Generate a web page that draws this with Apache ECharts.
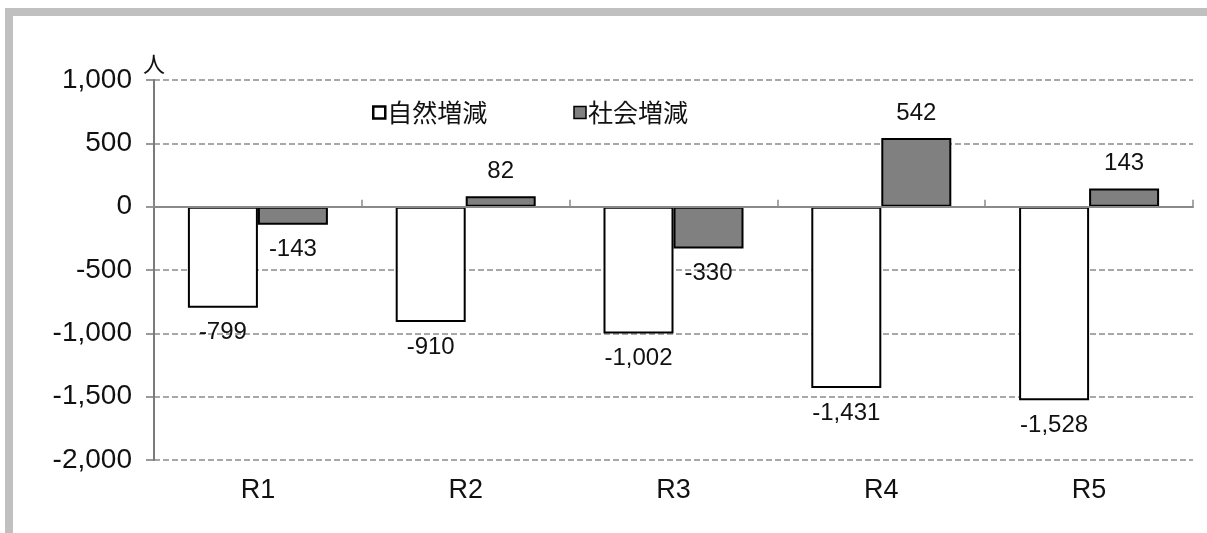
<!DOCTYPE html>
<html>
<head>
<meta charset="utf-8">
<script src="https://cdn.jsdelivr.net/npm/echarts@6/dist/echarts.min.js"></script>
<style>
  html, body { margin: 0; padding: 0; background: #ffffff; }
  #chart { width: 1207px; height: 533px; }
</style>
</head>
<body>
<div id="chart"></div>
<script>
// Fiscal years (令和)
const categories = ['R1', 'R2', 'R3', 'R4', 'R5'];
// 自然増減 (births minus deaths), persons
const naturalChange = [-799, -910, -1002, -1431, -1528];
// 社会増減 (in-migration minus out-migration), persons
const socialChange = [-143, 82, -330, 542, 143];
// Value axis range
const yMin = -2000;
const yMax = 1000;
const yStep = 500;

const numFont = '"Liberation Sans", Arial, sans-serif';
const jpFont = '"Noto Sans CJK JP", "Liberation Sans", sans-serif';

function withCommas(v) {
  const s = String(Math.abs(v)).replace(/\B(?=(\d{3})+(?!\d))/g, ',');
  return (v < 0 ? '-' : '') + s;
}

const chart = echarts.init(document.getElementById('chart'), null, { renderer: 'canvas' });

const barLabel = {
  show: true,
  position: 'outside',
  distance: 13,
  fontFamily: numFont,
  fontSize: 24,
  color: '#111',
  formatter: p => withCommas(p.value)
};

chart.setOption({
  backgroundColor: '#ffffff',
  animation: false,
  graphic: [
    { type: 'rect', shape: { x: 5, y: 8, width: 1202, height: 8 }, style: { fill: '#c0c0c0' }, silent: true },
    { type: 'rect', shape: { x: 5, y: 8, width: 8, height: 525 }, style: { fill: '#c0c0c0' }, silent: true }
  ],
  grid: { left: 154, right: 14, top: 80, bottom: 73, containLabel: false },
  legend: {
    left: 367,
    top: 95,
    icon: 'rect',
    itemWidth: 12,
    itemHeight: 12,
    itemGap: 86,
    textStyle: { fontFamily: jpFont, fontSize: 25, color: '#111', padding: [0, 0, 0, -3] },
    data: [
      { name: '自然増減', itemStyle: { color: '#ffffff', borderColor: '#000', borderWidth: 2.5 } },
      { name: '社会増減', itemStyle: { color: '#808080', borderColor: '#000', borderWidth: 1.5 } }
    ]
  },
  xAxis: [
    {
      type: 'category',
      data: categories,
      position: 'bottom',
      axisLine: { show: false, onZero: false },
      axisTick: { show: false },
      axisLabel: { fontFamily: numFont, fontSize: 27, color: '#111', margin: 17 }
    },
    {
      type: 'category',
      data: categories,
      position: 'top',
      axisLine: { show: true, onZero: true, lineStyle: { color: '#8a8a8a', width: 2 } },
      axisTick: { show: true, inside: false, length: 7, lineStyle: { color: '#8a8a8a', width: 1.5 } },
      axisLabel: { show: false },
      splitLine: { show: false },
      z: 5
    }
  ],
  yAxis: {
    type: 'value',
    min: yMin,
    max: yMax,
    interval: yStep,
    name: '人',
    nameLocation: 'end',
    nameGap: 5,
    nameTextStyle: { fontFamily: jpFont, fontSize: 22, color: '#111', align: 'center' },
    axisLine: { show: true, lineStyle: { color: '#7a7a7a', width: 2 } },
    axisTick: { show: true, inside: false, length: 8, lineStyle: { color: '#7a7a7a', width: 1.5 } },
    axisLabel: {
      fontFamily: numFont,
      fontSize: 28,
      color: '#111',
      margin: 22,
      formatter: v => withCommas(v)
    },
    splitLine: { show: true, lineStyle: { color: '#8c8c8c', width: 1.5, type: [6, 3] } }
  },
  series: [
    {
      name: '自然増減',
      type: 'bar',
      xAxisIndex: 0,
      data: naturalChange,
      barWidth: 70,
      barGap: '0%',
      itemStyle: { color: '#ffffff', borderColor: '#000', borderWidth: 2 },
      label: barLabel
    },
    {
      name: '社会増減',
      type: 'bar',
      xAxisIndex: 0,
      data: socialChange,
      barWidth: 70,
      barGap: '0%',
      itemStyle: { color: '#808080', borderColor: '#000', borderWidth: 2 },
      label: barLabel
    }
  ]
});
</script>
</body>
</html>
